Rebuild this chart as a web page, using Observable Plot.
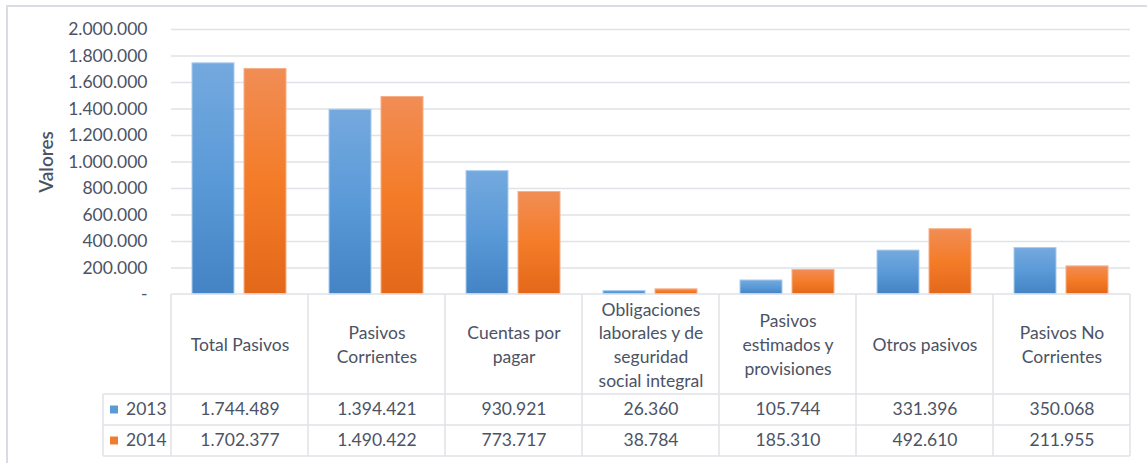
<!DOCTYPE html>
<html>
<head>
<meta charset="utf-8">
<script src="https://cdn.jsdelivr.net/npm/d3@7"></script>
<script src="https://cdn.jsdelivr.net/npm/@observablehq/plot@0.6"></script>
<style>
  html, body { margin: 0; padding: 0; background: #fff; }
  #chart { width: 1147px; height: 463px; overflow: hidden; }
</style>
</head>
<body>
<div id="chart"></div>
<script>
const categories = [
  "Total Pasivos",
  "Pasivos Corrientes",
  "Cuentas por pagar",
  "Obligaciones laborales y de seguridad social integral",
  "Pasivos estimados y provisiones",
  "Otros pasivos",
  "Pasivos No Corrientes"
];
const categoryLabels = [
  "Total Pasivos",
  "Pasivos\nCorrientes",
  "Cuentas por\npagar",
  "Obligaciones\nlaborales y de\nseguridad\nsocial integral",
  "Pasivos\nestimados y\nprovisiones",
  "Otros pasivos",
  "Pasivos No\nCorrientes"
];
const years = ["2013", "2014"];
const values2013 = [1744489, 1394421, 930921, 26360, 105744, 331396, 350068];
const values2014 = [1702377, 1490422, 773717, 38784, 185310, 492610, 211955];
const yTicks = [0, 200000, 400000, 600000, 800000, 1000000, 1200000, 1400000, 1600000, 1800000, 2000000];

const fmt = v => v === 0 ? "-" : d3.format(",")(v).replace(/,/g, ".");
const textColor = "#4b5365";
const font = "Lato, 'Open Sans', sans-serif";
const tableFont = 17.5;

const rows = [];
categories.forEach((c, i) => {
  rows.push({category: c, year: "2013", value: values2013[i]});
  rows.push({category: c, year: "2014", value: values2014[i]});
});
const labels = categories.map((c, i) => ({category: c, label: categoryLabels[i]}));
const legendRows = years.map((y, i) => ({category: categories[0], year: y}));

const plot = Plot.plot({
  width: 1147,
  height: 463,
  marginLeft: 168,
  marginRight: 14,
  marginTop: 29,
  marginBottom: 169,
  style: {fontFamily: font, color: textColor, background: "transparent", overflow: "visible"},
  fx: {domain: categories, padding: 0, axis: null},
  x: {domain: years, paddingInner: 0.189, paddingOuter: 0.396, axis: null},
  y: {domain: [0, 2000000]},
  marks: [
    Plot.gridY(yTicks.slice(1), {stroke: "#dfe2e7", strokeOpacity: 1, strokeWidth: 1.5}),
    Plot.axisY(yTicks, {
      tickSize: 0, tickPadding: 24, tickFormat: fmt, fontSize: 17.5,
      fill: textColor, label: "Valores", labelAnchor: "center", labelArrow: "none", labelOffset: 132
    }),
    Plot.barY(rows, {
      fx: "category", x: "year", y: "value",
      fill: d => d.year === "2013" ? "url(#grad2013)" : "url(#grad2014)",
      stroke: d => d.year === "2013" ? "#a8cbee" : "#f6b089",
      strokeWidth: 1
    }),
    Plot.text(labels, {
      fx: "category", text: "label", frameAnchor: "bottom", lineAnchor: "middle",
      dy: 49, fontSize: tableFont, lineHeight: 1.355, fill: textColor
    }),
    Plot.text(rows, {
      filter: d => d.year === "2013",
      fx: "category", text: d => fmt(d.value), frameAnchor: "bottom", lineAnchor: "middle",
      dy: 115, fontSize: tableFont, fill: textColor
    }),
    Plot.text(rows, {
      filter: d => d.year === "2014",
      fx: "category", text: d => fmt(d.value), frameAnchor: "bottom", lineAnchor: "middle",
      dy: 146, fontSize: tableFont, fill: textColor
    }),
    Plot.text(legendRows.slice(0, 1), {
      fx: "category", text: "year", frameAnchor: "bottom", lineAnchor: "middle", textAnchor: "start",
      dx: -114, dy: 115, fontSize: tableFont, fill: textColor
    }),
    Plot.text(legendRows.slice(1), {
      fx: "category", text: "year", frameAnchor: "bottom", lineAnchor: "middle", textAnchor: "start",
      dx: -114, dy: 146, fontSize: tableFont, fill: textColor
    }),
    Plot.dot(legendRows.slice(0, 1), {
      fx: "category", frameAnchor: "bottom", symbol: "square", r: 4.5,
      dx: -126, dy: 115, fill: "#5b9bd5", stroke: "none"
    }),
    Plot.dot(legendRows.slice(1), {
      fx: "category", frameAnchor: "bottom", symbol: "square", r: 4.5,
      dx: -126, dy: 146, fill: "#ed7d31", stroke: "none"
    })
  ]
});

const svg = d3.select(plot);
// axis label styling
svg.selectAll("[aria-label='y-axis label'] text, [aria-label='y-axis label']")
  .style("font-size", "19px").style("font-weight", "600");

// gradients for bars
const defs = svg.insert("defs", ":first-child");
function grad(id, stops) {
  const g = defs.append("linearGradient").attr("id", id).attr("x1", 0).attr("y1", 0).attr("x2", 0).attr("y2", 1);
  stops.forEach(([o, c]) => g.append("stop").attr("offset", o).attr("stop-color", c));
}
grad("grad2013", [[0, "#74a9de"], [0.5, "#5b9ad8"], [1, "#4483c4"]]);
grad("grad2014", [[0, "#f18d55"], [0.5, "#f47c28"], [1, "#e3681a"]]);

// table grid lines and outer border, positioned from the plot's scales
const fx = plot.scale("fx");
const ys = plot.scale("y");
const bw = fx.bandwidth;
const y0 = ys.apply(0);
const left = fx.apply(categories[0]);
const right = fx.apply(categories[categories.length - 1]) + bw;
const rowTop = y0 + 100, rowMid = y0 + 131, rowBot = y0 + 162;
const legendLeft = left - 68;
const g = svg.append("g").attr("stroke", "#dfe2e7").attr("stroke-width", 1.5).attr("fill", "none");
categories.forEach(c => {
  const x = fx.apply(c);
  g.append("line").attr("x1", x).attr("x2", x).attr("y1", y0).attr("y2", rowBot);
});
g.append("line").attr("x1", right).attr("x2", right).attr("y1", y0).attr("y2", rowBot);
g.append("line").attr("x1", legendLeft).attr("x2", legendLeft).attr("y1", rowTop).attr("y2", rowBot);
g.append("line").attr("x1", left).attr("x2", right).attr("y1", y0).attr("y2", y0);
[rowTop, rowMid, rowBot].forEach(y => {
  g.append("line").attr("x1", legendLeft).attr("x2", right).attr("y1", y).attr("y2", y);
});
svg.append("rect").attr("x", 7).attr("y", 6).attr("width", 1200).attr("height", 500)
  .attr("fill", "none").attr("stroke", "#d9dde3").attr("stroke-width", 2);

document.getElementById("chart").appendChild(plot);
</script>
</body>
</html>
